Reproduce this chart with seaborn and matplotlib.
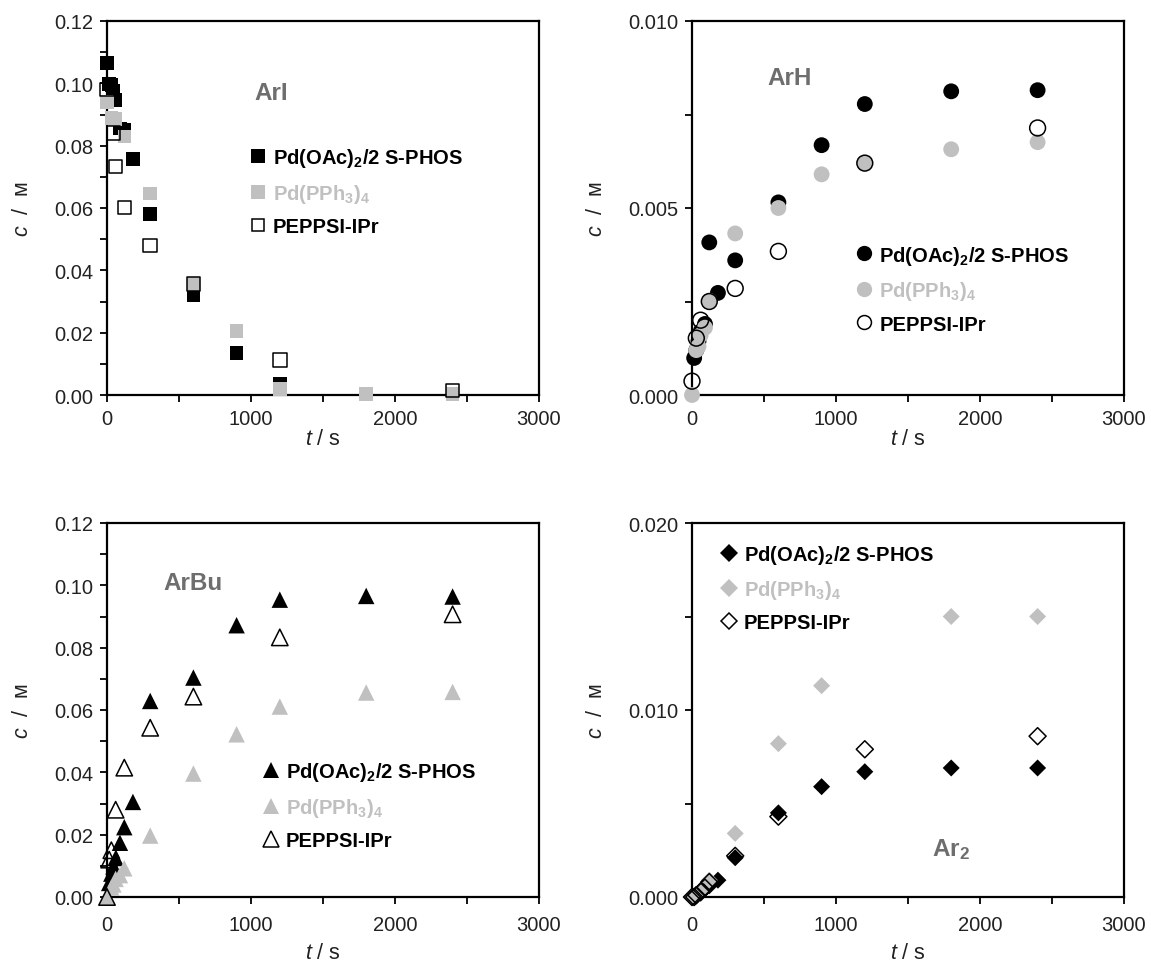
import numpy as np
import pandas as pd
import matplotlib
matplotlib.use("Agg")
import matplotlib.pyplot as plt
import seaborn as sns
from matplotlib.lines import Line2D
from matplotlib.ticker import MultipleLocator, FormatStrFormatter

# ---------------- data ----------------
series_labels = [r"Pd(OAc)$_\mathbf{2}$/2 S-PHOS", r"Pd(PPh$_\mathbf{3}$)$_\mathbf{4}$", "PEPPSI-IPr"]

# ArI
ari_sphos_t = [0, 15, 30, 45, 60, 90, 120, 180, 300, 600, 900, 1200, 1800, 2400]
ari_sphos_c = [0.1066, 0.0998, 0.0995, 0.0975, 0.0946, 0.0855, 0.0852, 0.0757, 0.0580, 0.0319, 0.0135, 0.0035, 0.0002, 0.0002]
ari_pph3_t = [0, 30, 60, 120, 300, 600, 900, 1200, 1800, 2400]
ari_pph3_c = [0.0940, 0.0888, 0.0886, 0.0829, 0.0646, 0.0356, 0.0205, 0.0020, 0.0003, 0.0003]
ari_peppsi_t = [0, 45, 60, 120, 300, 600, 1200, 2400]
ari_peppsi_c = [0.0980, 0.0840, 0.0733, 0.0602, 0.0480, 0.0356, 0.0113, 0.0015]

# ArH
arh_sphos_t = [15, 30, 45, 60, 90, 120, 180, 300, 600, 900, 1200, 1800, 2400]
arh_sphos_c = [0.00099, 0.00120, 0.00144, 0.00170, 0.00190, 0.00408, 0.00273, 0.00360, 0.00515, 0.00668, 0.00778, 0.00812, 0.00815]
arh_pph3_t = [0, 30, 45, 60, 90, 120, 300, 600, 900, 1200, 1800, 2400]
arh_pph3_c = [0.0, 0.00120, 0.00130, 0.00160, 0.00180, 0.00252, 0.00432, 0.00500, 0.00590, 0.00620, 0.00657, 0.00676]
arh_peppsi_t = [0, 30, 60, 120, 300, 600, 1200, 2400]
arh_peppsi_c = [0.00037, 0.00152, 0.00200, 0.00250, 0.00285, 0.00384, 0.00620, 0.00714]

# ArBu
arbu_sphos_t = [15, 30, 45, 60, 90, 120, 180, 300, 600, 900, 1200, 1800, 2400]
arbu_sphos_c = [0.0045, 0.0075, 0.0098, 0.0125, 0.0174, 0.0224, 0.0305, 0.0629, 0.0704, 0.0872, 0.0954, 0.0966, 0.0964]
arbu_pph3_t = [0, 30, 45, 60, 90, 120, 300, 600, 900, 1200, 1800, 2400]
arbu_pph3_c = [0.0, 0.0030, 0.0040, 0.0058, 0.0070, 0.0092, 0.0197, 0.0396, 0.0522, 0.0611, 0.0656, 0.0658]
arbu_peppsi_t = [0, 15, 30, 60, 120, 300, 600, 1200, 2400]
arbu_peppsi_c = [0.0, 0.0120, 0.0150, 0.0280, 0.0415, 0.0543, 0.0643, 0.0833, 0.0907]

# Ar2
ar2_sphos_t = [0, 15, 30, 60, 120, 180, 300, 600, 900, 1200, 1800, 2400]
ar2_sphos_c = [0.0, 0.0, 0.0001, 0.0002, 0.0006, 0.0009, 0.0021, 0.0045, 0.0059, 0.0067, 0.0069, 0.0069]
ar2_pph3_t = [0, 15, 30, 45, 60, 120, 300, 600, 900, 1800, 2400]
ar2_pph3_c = [0.0, 0.0, 0.0001, 0.0002, 0.0003, 0.0009, 0.0034, 0.0082, 0.0113, 0.0150, 0.0150]
ar2_peppsi_t = [0, 15, 30, 60, 90, 120, 300, 600, 1200, 2400]
ar2_peppsi_c = [0.0, 0.0, 0.0001, 0.0003, 0.0005, 0.0008, 0.0022, 0.0043, 0.0079, 0.0086]

panel_names = ["ArI", "ArH", "ArBu", r"Ar$_\mathbf{2}$"]

# ---------------- style ----------------
sns.set_theme(style="white")
plt.rcParams["font.family"] = ["Liberation Sans", "DejaVu Sans"]
plt.rcParams["mathtext.fontset"] = "custom"
plt.rcParams["mathtext.bf"] = "Liberation Sans:bold"
plt.rcParams["mathtext.rm"] = "Liberation Sans"
plt.rcParams["mathtext.it"] = "Liberation Sans:italic"

BLACK = "#000000"
GREY = "#c0c0c0"
LABEL_GREY = "#6e6e6e"
TICK_COL = "#222222"

fig = plt.figure(figsize=(11.51, 9.70), dpi=100)
W, H = 1151, 970


def make_ax(left_px, top_px, w_px=432, h_px=374):
    return fig.add_axes([left_px / W, 1 - (top_px + h_px) / H, w_px / W, h_px / H])


axes = [make_ax(107, 22), make_ax(692, 22), make_ax(107, 524), make_ax(692, 524)]

panels = [
    dict(data=[(ari_sphos_t, ari_sphos_c), (ari_pph3_t, ari_pph3_c), (ari_peppsi_t, ari_peppsi_c)],
         marker="s", s=95, ms=10, ymax=0.12, major=0.02, minor=0.01, fmt="%.2f",
         name_xy=(0.38, 0.81), leg_xy=(0.33, 0.665), spacing=0.62, xpad=5, xlabpad=0),
    dict(data=[(arh_sphos_t, arh_sphos_c), (arh_pph3_t, arh_pph3_c), (arh_peppsi_t, arh_peppsi_c)],
         marker="o", s=130, ms=11, ymax=0.010, major=0.005, minor=0.0025, fmt="%.3f",
         name_xy=(0.225, 0.85), leg_xy=(0.38, 0.405), spacing=0.62, xpad=5, xlabpad=0),
    dict(data=[(arbu_sphos_t, arbu_sphos_c), (arbu_pph3_t, arbu_pph3_c), (arbu_peppsi_t, arbu_peppsi_c)],
         marker="^", s=140, ms=12, ymax=0.12, major=0.02, minor=0.01, fmt="%.2f",
         name_xy=(0.20, 0.84), leg_xy=(0.36, 0.365), spacing=0.6, xpad=8, xlabpad=6),
    dict(data=[(ar2_sphos_t, ar2_sphos_c), (ar2_pph3_t, ar2_pph3_c), (ar2_peppsi_t, ar2_peppsi_c)],
         marker="D", s=75, ms=9, ymax=0.020, major=0.010, minor=0.005, fmt="%.3f",
         name_xy=(0.60, 0.13), leg_xy=(0.066, 0.946), spacing=0.58, xpad=8, xlabpad=6),
]

for ax, p, name in zip(axes, panels, panel_names):
    m = p["marker"]
    (t1, c1), (t2, c2), (t3, c3) = p["data"]
    df1 = pd.DataFrame({"t": t1, "c": c1})
    df2 = pd.DataFrame({"t": t2, "c": c2})
    df3 = pd.DataFrame({"t": t3, "c": c3})
    sns.scatterplot(data=df1, x="t", y="c", ax=ax, marker=m, s=p["s"], color=BLACK,
                    edgecolor="none", linewidth=0, clip_on=False, zorder=3)
    sns.scatterplot(data=df2, x="t", y="c", ax=ax, marker=m, s=p["s"], color=GREY,
                    edgecolor="none", linewidth=0, clip_on=False, zorder=4)
    sns.scatterplot(data=df3, x="t", y="c", ax=ax, marker=m, s=p["s"], facecolor="none",
                    edgecolor=BLACK, linewidth=1.1, clip_on=False, zorder=5)

    ax.set_xlim(0, 3000)
    ax.set_ylim(0, p["ymax"])
    ax.xaxis.set_major_locator(MultipleLocator(1000))
    ax.xaxis.set_minor_locator(MultipleLocator(500))
    ax.yaxis.set_major_locator(MultipleLocator(p["major"]))
    ax.yaxis.set_minor_locator(MultipleLocator(p["minor"]))
    ax.yaxis.set_major_formatter(FormatStrFormatter(p["fmt"]))
    ax.tick_params(which="both", direction="out", length=5, width=1.3, color=BLACK,
                   labelsize=14.5, labelcolor=TICK_COL, bottom=True, left=True)
    ax.tick_params(axis="x", which="major", pad=p["xpad"])
    ax.tick_params(axis="y", which="major", pad=5)
    for sp in ax.spines.values():
        sp.set_visible(True)
        sp.set_color(BLACK)
        sp.set_linewidth(1.6)
    ax.grid(False)

    ax.set_xlabel(r"$\mathit{t}$ / s", fontsize=15.5, color=TICK_COL, labelpad=p["xlabpad"])
    ax.set_ylabel(r"$\mathit{c}$  /  ᴍ", fontsize=15.5, color=TICK_COL, labelpad=15)

    ax.text(p["name_xy"][0], p["name_xy"][1], name, transform=ax.transAxes,
            fontsize=17.5, fontweight="bold", color=LABEL_GREY, ha="center", va="center")

    handles = [
        Line2D([], [], linestyle="none", marker=m, markersize=p["ms"], markerfacecolor=BLACK,
               markeredgecolor=BLACK, markeredgewidth=0),
        Line2D([], [], linestyle="none", marker=m, markersize=p["ms"], markerfacecolor=GREY,
               markeredgecolor=GREY, markeredgewidth=0),
        Line2D([], [], linestyle="none", marker=m, markersize=p["ms"] - 1, markerfacecolor="none",
               markeredgecolor=BLACK, markeredgewidth=1.1),
    ]
    leg = ax.legend(handles, series_labels, loc="upper left", bbox_to_anchor=p["leg_xy"],
                    frameon=False, handlelength=0.8, handletextpad=0.35,
                    labelspacing=p["spacing"], borderaxespad=0, borderpad=0,
                    prop={"weight": "bold", "size": 14.5},
                    labelcolor=[BLACK, GREY, BLACK])

fig.savefig("out.png", dpi=100)
